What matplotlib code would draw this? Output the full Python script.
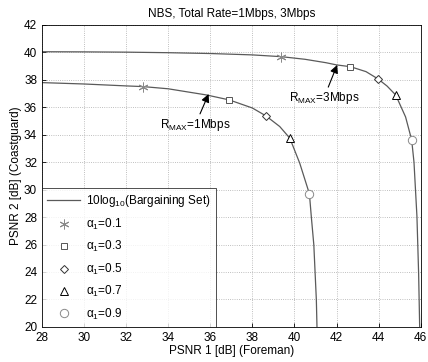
import matplotlib
matplotlib.use("Agg")
import matplotlib.pyplot as plt

plt.rcParams['font.family'] = ['Liberation Sans', 'DejaVu Sans']
plt.rcParams['mathtext.fontset'] = 'custom'
plt.rcParams['mathtext.rm'] = 'Liberation Sans'
plt.rcParams['mathtext.it'] = 'Liberation Sans:italic'

# bargaining set boundary, total rate 1 Mbps
x_1m = [28.0, 30.0, 32.0, 32.81, 34.0, 35.82, 36.9, 38.0, 38.65, 39.3, 39.78, 40.25, 40.71, 40.8, 40.92, 41.04, 41.07]
y_1m = [37.8, 37.7, 37.56, 37.51, 37.35, 36.9, 36.54, 35.95, 35.37, 34.6, 33.75, 31.93, 29.7, 28.04, 25.98, 21.97, 20.0]

# bargaining set boundary, total rate 3 Mbps
x_3m = [28.0, 30.0, 32.0, 34.0, 36.0, 38.0, 39.38, 40.5, 41.5, 42.0, 42.66, 43.4, 43.97, 44.4, 44.81, 45.28, 45.57, 45.68, 45.82, 45.9, 45.95]
y_3m = [40.05, 40.04, 40.02, 39.98, 39.92, 39.82, 39.69, 39.5, 39.25, 39.09, 38.96, 38.6, 38.07, 37.55, 36.9, 35.3, 33.62, 32.0, 28.05, 23.9, 20.0]

# NBS points for alpha_1 = 0.1 ... 0.9
alphas = ['0.1', '0.3', '0.5', '0.7', '0.9']
nbs_x_1m = [32.81, 36.88, 38.65, 39.78, 40.71]
nbs_y_1m = [37.51, 36.54, 35.37, 33.75, 29.7]
nbs_x_3m = [39.38, 42.66, 43.97, 44.81, 45.57]
nbs_y_3m = [39.69, 38.96, 38.07, 36.9, 33.62]

markers = [(6, 2, 0), 's', 'D', '^', 'o']
mcolors = ['#8a8a8a', '#555555', '#333333', '#000000', '#8a8a8a']
msizes = [7, 5, 4.2, 6, 6]

fig = plt.figure(figsize=(4.28, 3.62), dpi=100)
ax = fig.add_axes([0.098, 0.097, 0.885, 0.834])

line_col = '#5a5a5a'
ax.plot(x_1m, y_1m, '-', color=line_col, linewidth=0.9, label=r'10log$_{10}$(Bargaining Set)')
ax.plot(x_3m, y_3m, '-', color=line_col, linewidth=0.9)

for i in range(len(alphas)):
    ax.plot([nbs_x_1m[i], nbs_x_3m[i]], [nbs_y_1m[i], nbs_y_3m[i]], linestyle='none',
            marker=markers[i], markersize=msizes[i], markerfacecolor='white',
            markeredgecolor=mcolors[i], markeredgewidth=0.7,
            label='α$_1$=' + alphas[i])

ax.annotate(r'R$_{\mathrm{MAX}}$=1Mbps', xy=(35.92, 36.97), xytext=(35.29, 35.32),
            fontsize=8.5, ha='center', va='top',
            arrowprops=dict(arrowstyle='-|>', color='black', lw=0.8, mutation_scale=12, shrinkA=0, shrinkB=0))
ax.annotate(r'R$_{\mathrm{MAX}}$=3Mbps', xy=(42.03, 39.09), xytext=(41.4, 37.27),
            fontsize=8.5, ha='center', va='top',
            arrowprops=dict(arrowstyle='-|>', color='black', lw=0.8, mutation_scale=12, shrinkA=0, shrinkB=0))

ax.set_xlim(28, 46)
ax.set_ylim(20, 42)
ax.set_xticks(range(28, 47, 2))
ax.set_yticks(range(20, 43, 2))
ax.tick_params(labelsize=8.5, direction='in', length=3, width=0.6)
ax.grid(True, linestyle=':', color='#aaaaaa', linewidth=0.6)
for s in ax.spines.values():
    s.set_linewidth(0.6)

ax.set_title('NBS, Total Rate=1Mbps, 3Mbps', fontsize=8.5)
ax.set_xlabel('PSNR 1 [dB] (Foreman)', fontsize=8.5, labelpad=1)
ax.set_ylabel('PSNR 2 [dB] (Coastguard)', fontsize=8.5, labelpad=1)

leg = ax.legend(loc='lower left', fontsize=8.5, fancybox=False, borderaxespad=0,
                handlelength=2.8, handletextpad=0.5, labelspacing=0.62, borderpad=0.45,
                edgecolor='black')
leg.get_frame().set_linewidth(0.6)

fig.savefig('out.png', dpi=100)
